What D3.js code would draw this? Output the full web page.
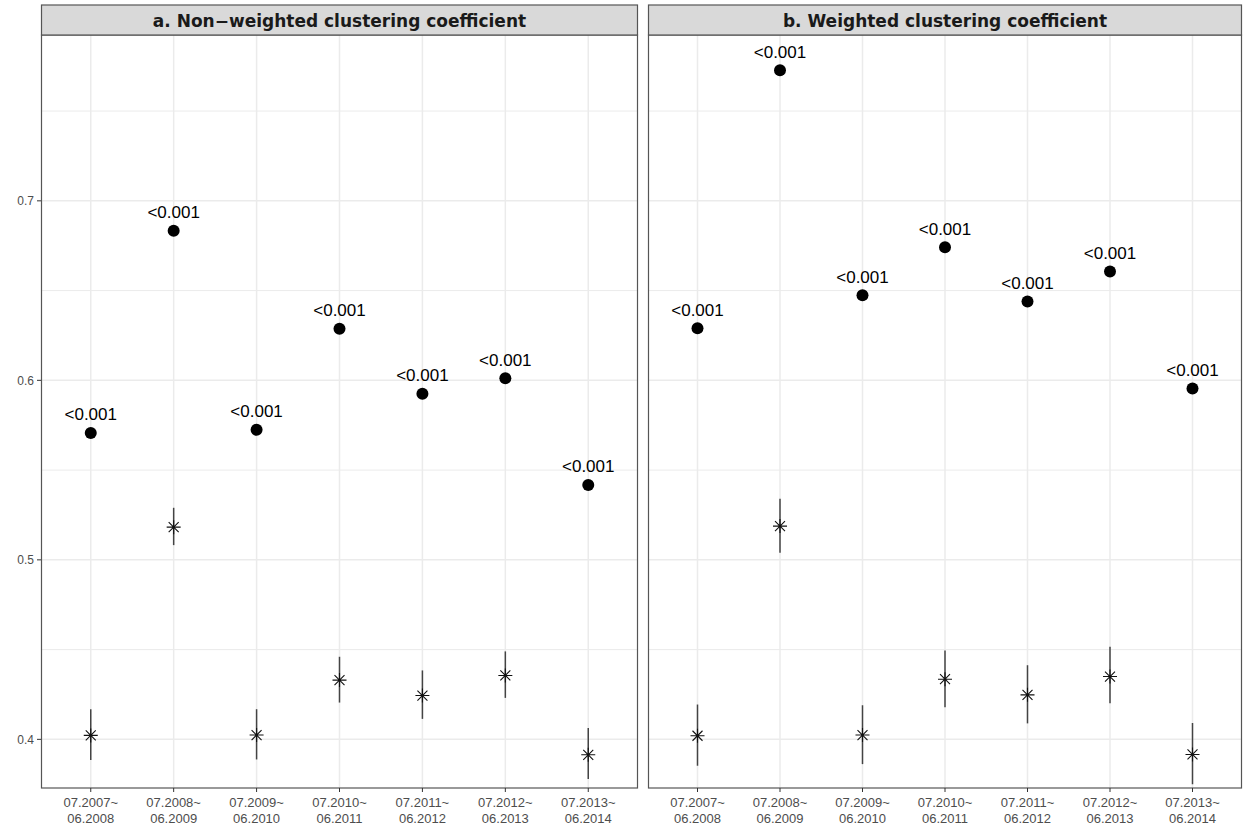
<!DOCTYPE html>
<html>
<head>
<meta charset="utf-8">
<script src="https://cdn.jsdelivr.net/npm/d3@7"></script>
<style>
  body { margin: 0; background: #fff; }
  svg { display: block; }
</style>
</head>
<body>
<svg id="drawing_region"></svg>
<script>
// periods on the x axis (two lines each)
const periodStart = ['07.2007~', '07.2008~', '07.2009~', '07.2010~', '07.2011~', '07.2012~', '07.2013~'];
const periodEnd   = ['06.2008', '06.2009', '06.2010', '06.2011', '06.2012', '06.2013', '06.2014'];

const panelTitles = ['a. Non\u2212weighted clustering coefficient', 'b. Weighted clustering coefficient'];

// observed coefficient (dots)
const observedA = [0.5707, 0.6833, 0.5725, 0.6287, 0.5925, 0.6012, 0.5417];
const observedB = [0.6290, 0.7728, 0.6474, 0.6741, 0.6439, 0.6606, 0.5955];

// random network mean and range (stars with bars)
const randomA     = [0.4022, 0.5182, 0.4024, 0.4330, 0.4244, 0.4356, 0.3914];
const randomLowA  = [0.3885, 0.5082, 0.3888, 0.4205, 0.4114, 0.4231, 0.3779];
const randomHighA = [0.4168, 0.5290, 0.4168, 0.4460, 0.4384, 0.4490, 0.4063];

const randomB     = [0.4020, 0.5188, 0.4024, 0.4335, 0.4248, 0.4350, 0.3916];
const randomLowB  = [0.3853, 0.5039, 0.3862, 0.4179, 0.4089, 0.4201, 0.3750];
const randomHighB = [0.4194, 0.5341, 0.4190, 0.4495, 0.4413, 0.4516, 0.4091];

const pLabelsA = ['<0.001', '<0.001', '<0.001', '<0.001', '<0.001', '<0.001', '<0.001'];
const pLabelsB = ['<0.001', '<0.001', '<0.001', '<0.001', '<0.001', '<0.001', '<0.001'];

const yMajor = [0.4, 0.5, 0.6, 0.7];
const yMinor = [0.45, 0.55, 0.65, 0.75];

const width = 1243, height = 826;
const svg = d3.select('#drawing_region')
    .attr('width', width)
    .attr('height', height);

const stripTop = 5, plotTop = 35, plotBottom = 788;
const panelLefts = [41, 648];
const panelWidths = [597, 594];

const y = d3.scaleLinear()
    .domain([0.3729, 0.79238])
    .range([plotBottom, plotTop]);

function buildRows(obs, rnd, lo, hi, lab) {
    return periodStart.map((p, i) => ({
        key: p + periodEnd[i],
        start: p, end: periodEnd[i],
        obs: obs[i], rnd: rnd[i], lo: lo[i], hi: hi[i], label: lab[i]
    }));
}

const panels = [
    { title: panelTitles[0], rows: buildRows(observedA, randomA, randomLowA, randomHighA, pLabelsA) },
    { title: panelTitles[1], rows: buildRows(observedB, randomB, randomLowB, randomHighB, pLabelsB) }
];

panels.forEach((panel, pi) => {
    const left = panelLefts[pi];
    const panelW = panelWidths[pi];
    const g = svg.append('g').attr('transform', `translate(${left},0)`);

    const x = d3.scalePoint()
        .domain(panel.rows.map(d => d.key))
        .range([0, panelW])
        .padding(0.6);

    // grid
    g.selectAll('.minor')
        .data(yMinor)
        .enter()
        .append('line')
        .attr('x1', 0).attr('x2', panelW)
        .attr('y1', d => y(d)).attr('y2', d => y(d))
        .attr('stroke', '#ebebeb')
        .attr('stroke-width', 1);

    g.selectAll('.major')
        .data(yMajor)
        .enter()
        .append('line')
        .attr('x1', 0).attr('x2', panelW)
        .attr('y1', d => y(d)).attr('y2', d => y(d))
        .attr('stroke', '#ebebeb')
        .attr('stroke-width', 1.5);

    g.selectAll('.vgrid')
        .data(panel.rows)
        .enter()
        .append('line')
        .attr('x1', d => x(d.key)).attr('x2', d => x(d.key))
        .attr('y1', plotTop).attr('y2', plotBottom)
        .attr('stroke', '#ebebeb')
        .attr('stroke-width', 1.5);

    // error bars
    g.selectAll('.bar')
        .data(panel.rows)
        .enter()
        .append('line')
        .attr('x1', d => x(d.key)).attr('x2', d => x(d.key))
        .attr('y1', d => y(d.lo)).attr('y2', d => y(d.hi))
        .attr('stroke', '#444')
        .attr('stroke-width', 1.5);

    // asterisks
    const s = 7, sd = 5;
    g.selectAll('.star')
        .data(panel.rows)
        .enter()
        .append('path')
        .attr('d', d => {
            const cx = x(d.key), cy = y(d.rnd);
            return `M${cx - s},${cy}L${cx + s},${cy}` +
                   `M${cx},${cy - s}L${cx},${cy + s}` +
                   `M${cx - sd},${cy - sd}L${cx + sd},${cy + sd}` +
                   `M${cx - sd},${cy + sd}L${cx + sd},${cy - sd}`;
        })
        .attr('stroke', '#111')
        .attr('stroke-width', 1.1)
        .attr('fill', 'none');

    // observed points
    g.selectAll('.dot')
        .data(panel.rows)
        .enter()
        .append('circle')
        .attr('cx', d => x(d.key))
        .attr('cy', d => y(d.obs))
        .attr('r', 6)
        .attr('fill', '#000');

    g.selectAll('.plab')
        .data(panel.rows)
        .enter()
        .append('text')
        .attr('x', d => x(d.key))
        .attr('y', d => y(d.obs) - 12.5)
        .attr('text-anchor', 'middle')
        .style('font-family', '"Liberation Sans", Arial, sans-serif')
        .style('font-size', '17px')
        .attr('fill', '#000')
        .text(d => d.label);

    // panel border
    g.append('rect')
        .attr('x', 0.5).attr('y', plotTop)
        .attr('width', panelW - 1).attr('height', plotBottom - plotTop)
        .attr('fill', 'none')
        .attr('stroke', '#555')
        .attr('stroke-width', 1.2);

    // strip
    g.append('rect')
        .attr('x', 0.5).attr('y', stripTop)
        .attr('width', panelW - 1).attr('height', plotTop - stripTop)
        .attr('fill', '#d9d9d9')
        .attr('stroke', '#555')
        .attr('stroke-width', 1.2);

    g.append('text')
        .attr('x', panelW / 2)
        .attr('y', 27)
        .attr('text-anchor', 'middle')
        .style('font-family', '"DejaVu Sans", sans-serif')
        .style('font-weight', 'bold')
        .style('font-size', '17px')
        .attr('fill', '#1a1a1a')
        .text(panel.title);

    // x axis ticks and two-line labels
    const xa = g.append('g').attr('transform', `translate(0,${plotBottom})`);
    xa.selectAll('line')
        .data(panel.rows)
        .enter()
        .append('line')
        .attr('x1', d => x(d.key)).attr('x2', d => x(d.key))
        .attr('y1', 0).attr('y2', 4)
        .attr('stroke', '#333');

    const xl = xa.selectAll('text')
        .data(panel.rows)
        .enter()
        .append('text')
        .attr('text-anchor', 'middle')
        .style('font-family', '"Liberation Sans", Arial, sans-serif')
        .style('font-size', '13px')
        .attr('fill', '#4d4d4d');
    xl.append('tspan')
        .attr('x', d => x(d.key)).attr('y', 19)
        .text(d => d.start);
    xl.append('tspan')
        .attr('x', d => x(d.key)).attr('y', 35)
        .text(d => d.end);

    // y axis only on the left panel
    if (pi === 0) {
        const ya = g.append('g');
        ya.selectAll('line')
            .data(yMajor)
            .enter()
            .append('line')
            .attr('x1', -4).attr('x2', 0)
            .attr('y1', d => y(d)).attr('y2', d => y(d))
            .attr('stroke', '#333');
        ya.selectAll('text')
            .data(yMajor)
            .enter()
            .append('text')
            .attr('x', -7)
            .attr('y', d => y(d))
            .attr('dy', '0.35em')
            .attr('text-anchor', 'end')
            .style('font-family', '"Liberation Sans", Arial, sans-serif')
            .style('font-size', '12px')
            .attr('fill', '#4d4d4d')
            .text(d => d3.format('.1f')(d));
    }
});
</script>
</body>
</html>
